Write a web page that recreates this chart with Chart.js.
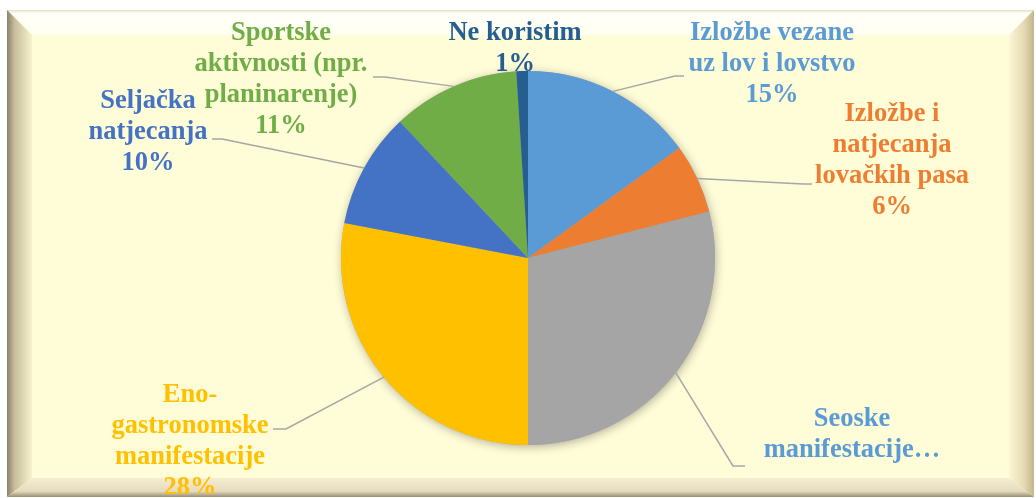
<!DOCTYPE html>
<html>
<head>
<meta charset="utf-8">
<script src="https://cdn.jsdelivr.net/npm/chart.js@4/dist/chart.umd.min.js"></script>
<style>
  html, body { margin: 0; padding: 0; background: #fff; }
  #wrap { width: 1036px; height: 498px; }
</style>
</head>
<body>
<div id="wrap"><canvas id="pieChart" width="1036" height="498"></canvas></div>
<script>
// data (clockwise from the top)
const categories = [
  ['Izložbe vezane', 'uz lov i lovstvo'],
  ['Izložbe i', 'natjecanja', 'lovačkih pasa'],
  ['Seoske', 'manifestacije…'],
  ['Eno-', 'gastronomske', 'manifestacije'],
  ['Seljačka', 'natjecanja'],
  ['Sportske', 'aktivnosti (npr.', 'planinarenje)'],
  ['Ne koristim']
];
const shares = [15, 6, 29, 28, 10, 11, 1];
const sliceColors = ['#5B9BD5', '#ED7D31', '#A5A5A5', '#FFC000', '#4472C4', '#70AD47', '#255E91'];
const labelColors = ['#5B9BD5', '#ED7D31', '#5B9BD5', '#FFC000', '#4472C4', '#70AD47', '#255E91'];

// where each callout sits: text centre x, first line y, leader end and elbow
const callouts = [
  { x: 772, y: 33, end: [684, 76], elbow: [675, 76], pct: true },
  { x: 892, y: 114, end: [812, 184], elbow: [803, 184], pct: true },
  { x: 852, y: 419, end: [745, 466], elbow: [733, 466], pct: false },
  { x: 190, y: 395, end: [273, 429], elbow: [286, 429], pct: true },
  { x: 148, y: 101, end: [212, 139], elbow: [222, 139], pct: true },
  { x: 281, y: 33, end: [373, 77], elbow: [385, 77], pct: true },
  { x: 515, y: 33, end: null, elbow: null, pct: true }
];
const FONT = 'bold 26.5px "Liberation Serif", "Times New Roman", serif';
const LINE_H = 31;

const FRAME = { x0: 7, y0: 10, x1: 1034, y1: 497, b: 25 };

// bevelled cream panel behind everything
const bevelFrame = {
  id: 'bevelFrame',
  beforeDraw(chart) {
    const c = chart.ctx;
    const { x0, y0, x1, y1, b } = FRAME;
    const ix0 = x0 + b, iy0 = y0 + b, ix1 = x1 - b, iy1 = y1 - b + 6;
    c.save();
    c.fillStyle = '#FFFDD7';
    c.fillRect(x0, y0, x1 - x0, y1 - y0);

    let g = c.createLinearGradient(0, y0, 0, iy0);
    g.addColorStop(0, '#e4dcbc');
    g.addColorStop(0.12, '#fffffa');
    g.addColorStop(1, '#fffff0');
    c.fillStyle = g;
    c.beginPath(); c.moveTo(x0, y0); c.lineTo(x1, y0); c.lineTo(ix1, iy0); c.lineTo(ix0, iy0); c.closePath(); c.fill();

    g = c.createLinearGradient(x0, 0, ix0, 0);
    g.addColorStop(0, '#8a826c');
    g.addColorStop(0.3, '#c6bd9a');
    g.addColorStop(1, '#f8f2cf');
    c.fillStyle = g;
    c.beginPath(); c.moveTo(x0, y0); c.lineTo(ix0, iy0); c.lineTo(ix0, iy1); c.lineTo(x0, y1); c.closePath(); c.fill();

    g = c.createLinearGradient(ix1, 0, x1, 0);
    g.addColorStop(0, '#fbf6d4');
    g.addColorStop(0.6, '#e5d9b2');
    g.addColorStop(1, '#c4b68c');
    c.fillStyle = g;
    c.beginPath(); c.moveTo(x1, y0); c.lineTo(x1, y1); c.lineTo(ix1, iy1); c.lineTo(ix1, iy0); c.closePath(); c.fill();

    g = c.createLinearGradient(0, iy1, 0, y1);
    g.addColorStop(0, '#f6eed2');
    g.addColorStop(0.7, '#e6dbbc');
    g.addColorStop(1, '#958e78');
    c.fillStyle = g;
    c.beginPath(); c.moveTo(x0, y1); c.lineTo(ix0, iy1); c.lineTo(ix1, iy1); c.lineTo(x1, y1); c.closePath(); c.fill();
    c.restore();
  }
};

// soft shadow under the pie
const pieShadow = {
  id: 'pieShadow',
  beforeDatasetsDraw(chart) {
    const arc = chart.getDatasetMeta(0).data[0];
    if (!arc) return;
    const c = chart.ctx;
    c.save();
    c.shadowColor = 'rgba(0,0,0,0.3)';
    c.shadowBlur = 10;
    c.shadowOffsetX = 1;
    c.shadowOffsetY = 2;
    c.fillStyle = '#A5A5A5';
    c.beginPath();
    c.arc(arc.x, arc.y, arc.outerRadius, 0, Math.PI * 2);
    c.fill();
    c.restore();
  }
};

// leader lines and wrapped labels
const calloutLabels = {
  id: 'calloutLabels',
  afterDatasetsDraw(chart) {
    const c = chart.ctx;
    const meta = chart.getDatasetMeta(0);
    c.save();
    c.beginPath();
    c.rect(FRAME.x0, FRAME.y0, FRAME.x1 - FRAME.x0, FRAME.y1 - FRAME.y0 - 3);
    c.clip();
    meta.data.forEach((arc, i) => {
      const co = callouts[i];
      if (co.end) {
        const mid = (arc.startAngle + arc.endAngle) / 2;
        const sx = arc.x + Math.cos(mid) * arc.outerRadius;
        const sy = arc.y + Math.sin(mid) * arc.outerRadius;
        c.strokeStyle = '#A6A6A6';
        c.lineWidth = 1.5;
        c.beginPath();
        c.moveTo(sx, sy);
        c.lineTo(co.elbow[0], co.elbow[1]);
        c.lineTo(co.end[0], co.end[1]);
        c.stroke();
      }
      const lines = categories[i].slice();
      if (co.pct) lines.push(shares[i] + '%');
      c.font = FONT;
      c.fillStyle = labelColors[i];
      c.textAlign = 'center';
      c.textBaseline = 'middle';
      lines.forEach((t, k) => c.fillText(t, co.x, co.y + k * LINE_H));
    });
    c.restore();
  }
};

new Chart(document.getElementById('pieChart'), {
  type: 'pie',
  data: {
    labels: categories.map(l => l.join(' ')),
    datasets: [{
      data: shares,
      backgroundColor: sliceColors,
      borderWidth: 0
    }]
  },
  options: {
    responsive: false,
    animation: false,
    layout: { padding: { left: 341, right: 321, top: 71, bottom: 53 } },
    plugins: {
      legend: { display: false },
      tooltip: { enabled: false }
    }
  },
  plugins: [bevelFrame, pieShadow, calloutLabels]
});
</script>
</body>
</html>
